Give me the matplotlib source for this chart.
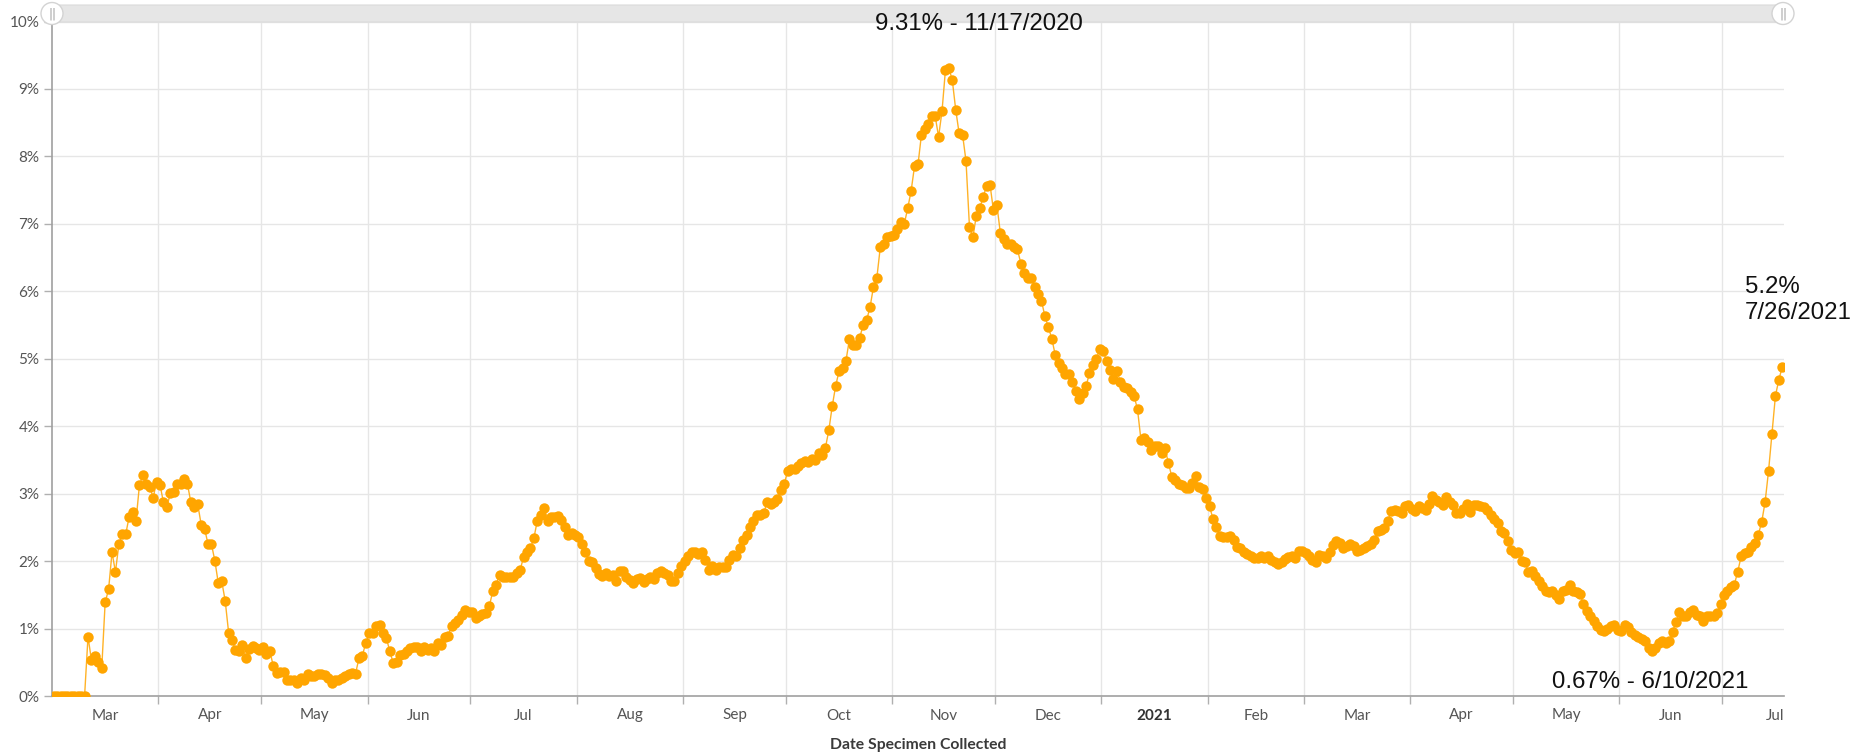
import numpy as np
import matplotlib
matplotlib.use("Agg")
import matplotlib.pyplot as plt
from matplotlib.patches import FancyBboxPatch, Ellipse

# daily positivity (%), one list per month, starting 2020-03-01
mar20 = [0, 0, 0, 0, 0, 0, 0, 0, 0, 0, 0.88, 0.53, 0.59, 0.50, 0.41, 1.39, 1.58, 2.13, 1.84, 2.25,
         2.40, 2.40, 2.66, 2.73, 2.60, 3.13, 3.27, 3.14, 3.10, 2.94, 3.18]
apr20 = [3.13, 2.87, 2.80, 3.01, 3.02, 3.14, 3.14, 3.21, 3.14, 2.87, 2.80, 2.84, 2.54, 2.48, 2.25,
         2.25, 2.00, 1.67, 1.70, 1.41, 0.94, 0.83, 0.68, 0.66, 0.76, 0.57, 0.69, 0.74, 0.71, 0.68]
may20 = [0.72, 0.63, 0.67, 0.45, 0.34, 0.36, 0.35, 0.24, 0.23, 0.23, 0.20, 0.26, 0.24, 0.33, 0.29,
         0.30, 0.33, 0.33, 0.31, 0.27, 0.20, 0.23, 0.23, 0.26, 0.30, 0.33, 0.34, 0.33, 0.56, 0.60, 0.79]
jun20 = [0.93, 0.93, 1.04, 1.05, 0.93, 0.86, 0.66, 0.49, 0.51, 0.61, 0.63, 0.67, 0.71, 0.73, 0.73,
         0.67, 0.73, 0.68, 0.71, 0.67, 0.79, 0.76, 0.87, 0.89, 1.04, 1.08, 1.13, 1.20, 1.27, 1.24]
jul20 = [1.24, 1.15, 1.18, 1.22, 1.23, 1.33, 1.55, 1.65, 1.80, 1.77, 1.77, 1.77, 1.76, 1.82, 1.87,
         2.06, 2.13, 2.19, 2.34, 2.60, 2.68, 2.79, 2.60, 2.66, 2.66, 2.67, 2.61, 2.51, 2.39, 2.41, 2.39]
aug20 = [2.36, 2.26, 2.14, 2.00, 1.99, 1.90, 1.81, 1.78, 1.83, 1.78, 1.79, 1.70, 1.86, 1.86, 1.77,
         1.72, 1.68, 1.73, 1.75, 1.69, 1.73, 1.76, 1.74, 1.82, 1.86, 1.83, 1.80, 1.71, 1.71, 1.83, 1.92]
sep20 = [2.00, 2.07, 2.13, 2.13, 2.11, 2.14, 2.02, 1.87, 1.93, 1.87, 1.91, 1.91, 1.91, 2.01, 2.09,
         2.08, 2.19, 2.31, 2.39, 2.50, 2.60, 2.68, 2.69, 2.71, 2.87, 2.85, 2.88, 2.92, 3.05, 3.15]
oct20 = [3.33, 3.37, 3.37, 3.41, 3.45, 3.49, 3.47, 3.52, 3.50, 3.60, 3.57, 3.68, 3.94, 4.30, 4.60,
         4.82, 4.86, 4.97, 5.29, 5.20, 5.20, 5.31, 5.50, 5.57, 5.76, 6.06, 6.20, 6.65, 6.70, 6.80, 6.82]
nov20 = [6.83, 6.92, 7.03, 7.00, 7.23, 7.49, 7.86, 7.88, 8.32, 8.40, 8.48, 8.60, 8.60, 8.29, 8.67,
         9.28, 9.31, 9.13, 8.69, 8.34, 8.32, 7.93, 6.96, 6.80, 7.12, 7.23, 7.40, 7.56, 7.58, 7.20]
dec20 = [7.28, 6.87, 6.78, 6.70, 6.70, 6.66, 6.62, 6.41, 6.27, 6.20, 6.20, 6.07, 5.96, 5.86, 5.63,
         5.47, 5.30, 5.06, 4.94, 4.86, 4.77, 4.78, 4.66, 4.52, 4.40, 4.49, 4.59, 4.79, 4.91, 4.99, 5.15]
jan21 = [5.11, 4.97, 4.83, 4.70, 4.82, 4.66, 4.58, 4.56, 4.50, 4.45, 4.25, 3.80, 3.82, 3.77, 3.65,
         3.70, 3.70, 3.60, 3.67, 3.46, 3.25, 3.20, 3.15, 3.13, 3.09, 3.08, 3.16, 3.26, 3.10, 3.07, 2.93]
feb21 = [2.81, 2.63, 2.51, 2.37, 2.36, 2.35, 2.37, 2.31, 2.21, 2.20, 2.13, 2.11, 2.08, 2.04, 2.04,
         2.08, 2.04, 2.07, 2.01, 1.98, 1.95, 1.99, 2.03, 2.06, 2.08, 2.05, 2.15, 2.15]
mar21 = [2.12, 2.07, 2.01, 1.99, 2.09, 2.07, 2.04, 2.14, 2.24, 2.30, 2.27, 2.20, 2.22, 2.26, 2.23,
         2.15, 2.17, 2.20, 2.22, 2.26, 2.32, 2.44, 2.46, 2.49, 2.60, 2.75, 2.76, 2.75, 2.72, 2.82, 2.83]
apr21 = [2.77, 2.75, 2.82, 2.78, 2.76, 2.85, 2.96, 2.91, 2.88, 2.83, 2.95, 2.88, 2.83, 2.72, 2.71,
         2.77, 2.85, 2.73, 2.83, 2.83, 2.82, 2.80, 2.76, 2.68, 2.62, 2.56, 2.45, 2.41, 2.30, 2.17]
may21 = [2.12, 2.14, 2.00, 1.98, 1.84, 1.86, 1.78, 1.70, 1.63, 1.56, 1.54, 1.55, 1.50, 1.44, 1.56,
         1.57, 1.64, 1.56, 1.54, 1.51, 1.37, 1.26, 1.18, 1.11, 1.04, 0.98, 0.97, 1.00, 1.04, 1.05, 0.98]
jun21 = [0.96, 1.06, 1.02, 0.95, 0.90, 0.87, 0.85, 0.81, 0.71, 0.67, 0.71, 0.78, 0.81, 0.79, 0.82,
         0.95, 1.10, 1.24, 1.19, 1.19, 1.25, 1.28, 1.20, 1.18, 1.11, 1.19, 1.19, 1.19, 1.23, 1.36]
jul21 = [1.50, 1.55, 1.62, 1.65, 1.84, 2.07, 2.12, 2.14, 2.21, 2.27, 2.39, 2.58, 2.88, 3.34, 3.89,
         4.45, 4.69, 4.88]

month_labels = ["Mar", "Apr", "May", "Jun", "Jul", "Aug", "Sep", "Oct", "Nov", "Dec",
                "2021", "Feb", "Mar", "Apr", "May", "Jun", "Jul"]
y_ticks = list(range(0, 11))
notes = ["9.31% - 11/17/2020", "0.67% - 6/10/2021", "5.2%\n7/26/2021"]

values = np.array(mar20 + apr20 + may20 + jun20 + jul20 + aug20 + sep20 + oct20 + nov20 + dec20
                  + jan21 + feb21 + mar21 + apr21 + may21 + jun21 + jul21)
start = np.datetime64("2020-03-01")
dates = start + np.arange(len(values))
x = (dates - start).astype(int) + 0.5          # points sit in the middle of their day
x_end = len(values)

months = np.arange("2020-03", "2021-08", dtype="datetime64[M]")
m_start = (months.astype("datetime64[D]") - start).astype(int)
m_next = ((months + 1).astype("datetime64[D]") - start).astype(int)
m_mid = (m_start + m_next) / 2

fig = plt.figure(figsize=(18.6, 7.55), dpi=100)
W, H = 1860, 755
ax = fig.add_axes([52 / W, 59 / H, (1784 - 52) / W, 674.5 / H])

ax.plot(x, values, color="#ffa500", lw=1.0, alpha=0.85, zorder=3)
ax.plot(x, values, ls="none", marker="o", ms=7.5, mfc="#ffa500", mec="#ffa500", mew=0, zorder=4)

ax.set_xlim(0, x_end)
ax.set_ylim(0, 10)

ax.set_yticks(y_ticks)
ax.set_yticklabels([f"{v}%" for v in y_ticks])
ax.set_xticks(m_start[1:])
ax.set_xticklabels([])
ax.set_xticks(m_mid, minor=True)
ax.set_xticklabels(month_labels, minor=True)

ax.grid(True, which="major", color="#e6e6e6", lw=1)
ax.set_axisbelow(True)
for s in ["top", "right"]:
    ax.spines[s].set_visible(False)
for s in ["left", "bottom"]:
    ax.spines[s].set_color("#a0a0a0")
    ax.spines[s].set_linewidth(1.2)

tick_font = "Lato"
ax.tick_params(axis="y", length=6, width=1, color="#b0b0b0", labelsize=11, labelcolor="#555555", pad=3)
ax.tick_params(axis="x", which="major", length=6, width=1, color="#b0b0b0")
ax.tick_params(axis="x", which="minor", length=0, labelsize=11, labelcolor="#555555", pad=9)
for lab in ax.get_yticklabels() + ax.get_xticklabels(minor=True):
    lab.set_fontfamily(tick_font)
for lab in ax.get_xticklabels(minor=True):
    if lab.get_text() == "2021":
        lab.set_fontweight("bold")
        lab.set_color("#333333")

ax.set_xlabel("Date Specimen Collected", fontfamily=tick_font, fontweight="bold",
              fontsize=11.3, color="#3a3a3a", labelpad=11)

# annotations
ann = dict(fontfamily="Liberation Sans", fontsize=17.3, color="#111111")
fig.text(979 / W, 1 - 24 / H, notes[0], ha="center", va="center", **ann)
fig.text(1650 / W, 1 - 682 / H, notes[1], ha="center", va="center", **ann)
fig.text(1745 / W, 1 - 300 / H, notes[2], ha="left", va="center", linespacing=1.25, **ann)

# scroll bar above the plot
bar = FancyBboxPatch((48 / W, 1 - 22 / H), (1786 - 48) / W, 17 / H,
                     boxstyle="round,pad=0,rounding_size=0.002", transform=fig.transFigure,
                     fc="#e6e6e6", ec="#dadada", lw=0.8)
fig.patches.append(bar)
for hx in (52, 1783):
    fig.patches.append(Ellipse((hx / W, 1 - 13.5 / H), 22 / W, 22 / H, transform=fig.transFigure,
                               fc="white", ec="#d3d3d3", lw=1, zorder=5))
    fig.text(hx / W, 1 - 13.5 / H, "||", ha="center", va="center", fontsize=8.5,
             color="#a0a0a0", zorder=6)

fig.savefig("out.png", dpi=100)
